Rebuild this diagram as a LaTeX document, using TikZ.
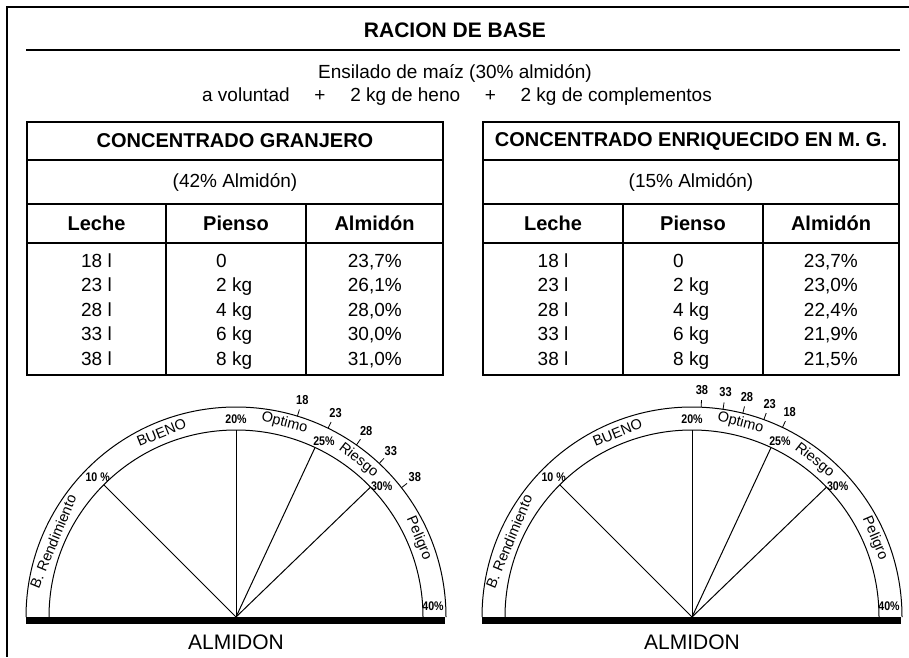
\documentclass[tikz,border=0pt]{standalone}
\usepackage{fontspec}
\setmainfont{Liberation Sans}
\newfontfamily\narrowfont[FakeStretch=0.85]{Liberation Sans}
\usetikzlibrary{positioning, calc}

\begin{document}
\begin{tikzpicture}[%
    x=1pt, y=1pt,
    cell/.style={
      draw,
      line width=1.3pt,
      inner sep=0,
      outer sep=0
    },
    cabecera/.style={font=\bfseries\fontsize{20}{24}\selectfont},
    texto/.style={font=\fontsize{19}{22}\selectfont},
    dato/.style={font=\fontsize{19}{22}\selectfont, inner sep=0},
    zona/.style={font=\fontsize{14.5}{17}\selectfont, inner sep=0},
    pct/.style={font=\narrowfont\bfseries\fontsize{12.5}{14}\selectfont, inner sep=0}]
    \fill[white] (0,0) rectangle (909,657);
    \useasboundingbox (0,0) rectangle (909,657);

    % marco y racion de base
    \draw[line width=1.5pt] (909,650) -- (7,650) -- (7,0);
    \node[font=\bfseries\fontsize{21}{24}\selectfont] (titulo) at (455,627) {RACION DE BASE};
    \coordinate (rayaL) at (26,607);
    \coordinate (rayaR) at (900,607);
    \draw[line width=1.2pt] (rayaL) -- (rayaR);
    \node[texto] (base1) at (455,584) {Ensilado de maíz (30\% almidón)};
    \node[texto] (base2) at (457,560)
        {a voluntad\hspace{1.3em}+\hspace{1.3em}2 kg de heno\hspace{1.3em}+\hspace{1.3em}2 kg de complementos};

    % tabla concentrado granjero
    \node[cell, cabecera, minimum width=416, minimum height=38] (grTit) at (235,516) {CONCENTRADO GRANJERO};
    \node[cell, texto, minimum width=416, minimum height=44, below=0 of grTit] (grSub) {(42\% Almidón)};
    \node[cell, cabecera, minimum width=139, minimum height=39, below right=0 and 0 of grSub.south west] (grLe) {Leche};
    \node[cell, cabecera, minimum width=140, minimum height=39, right=0 of grLe] (grPi) {Pienso};
    \node[cell, cabecera, minimum width=137, minimum height=39, right=0 of grPi] (grAl) {Almidón};
    \node[cell, minimum width=139, minimum height=132, below=0 of grLe] (grLeD) {};
    \node[cell, minimum width=140, minimum height=132, below=0 of grPi] (grPiD) {};
    \node[cell, minimum width=137, minimum height=132, below=0 of grAl] (grAlD) {};
    \foreach \vl/\vp/\va [count=\i] in {18 l/0/{23,7\%}, 23 l/2 kg/{26,1\%}, 28 l/4 kg/{28,0\%},
        33 l/6 kg/{30,0\%}, 38 l/8 kg/{31,0\%}} {
      \node[dato, anchor=base] (grL\i) at (96.5,414.5-24.5*\i) {\vl};
      \node[dato, anchor=base west] (grP\i) at (216,414.5-24.5*\i) {\vp};
      \node[dato, anchor=base east] (grA\i) at (402,414.5-24.5*\i) {\va};
    }

    % tabla concentrado enriquecido
    \node[cell, cabecera, minimum width=416, minimum height=38] (enTit) at (691,516) {CONCENTRADO ENRIQUECIDO EN M. G.};
    \node[cell, texto, minimum width=416, minimum height=44, below=0 of enTit] (enSub) {(15\% Almidón)};
    \node[cell, cabecera, minimum width=140, minimum height=39, below right=0 and 0 of enSub.south west] (enLe) {Leche};
    \node[cell, cabecera, minimum width=140, minimum height=39, right=0 of enLe] (enPi) {Pienso};
    \node[cell, cabecera, minimum width=136, minimum height=39, right=0 of enPi] (enAl) {Almidón};
    \node[cell, minimum width=140, minimum height=132, below=0 of enLe] (enLeD) {};
    \node[cell, minimum width=140, minimum height=132, below=0 of enPi] (enPiD) {};
    \node[cell, minimum width=136, minimum height=132, below=0 of enAl] (enAlD) {};
    \foreach \vl/\vp/\va [count=\i] in {18 l/0/{23,7\%}, 23 l/2 kg/{23,0\%}, 28 l/4 kg/{22,4\%},
        33 l/6 kg/{21,9\%}, 38 l/8 kg/{21,5\%}} {
      \node[dato, anchor=base] (enL\i) at (553,414.5-24.5*\i) {\vl};
      \node[dato, anchor=base west] (enP\i) at (673,414.5-24.5*\i) {\vp};
      \node[dato, anchor=base east] (enA\i) at (858,414.5-24.5*\i) {\va};
    }

    % semicirculos de almidon
    \foreach \g/\cx in {A/236, B/692} {
      \begin{scope}[shift={(\cx,40)}]
        \coordinate (c\g) at (0,0);
        \fill (-210,-7) rectangle (209,0);
        \draw[line width=1pt] (-210,0) arc[start angle=180, end angle=0, radius=210];
        \draw[line width=1pt] (-187,0) arc[start angle=180, end angle=0, radius=187];
        \foreach \a/\p in {135/10, 90/20, 65/25, 44/30} {
          \coordinate (p\g\p) at (\a:187);
          \draw[line width=1pt] (c\g) -- (p\g\p);
        }
        \node[zona, rotate=67.5] (rend\g) at (157.5:198) {B. Rendimiento};
        \node[zona, rotate=22] (bueno\g) at (112:199) {BUENO};
        \node[zona, rotate=-14.5] (opt\g) at (76:200) {Optimo};
        \node[zona, rotate=-38] (ries\g) at (52:199) {Riesgo};
        \node[zona, rotate=-67] (pel\g) at (23.3:199) {Peligro};
        \node[pct] (q10\g) at (134.6:197) {10 \%};
        \node[pct] (q20\g) at (90:198) {20\%};
        \node[pct] (q25\g) at (63.5:197) {25\%};
        \node[pct] (q30\g) at (42:196) {30\%};
        \node[pct] (q40\g) at (197,11) {40\%};
        \node[font=\fontsize{21}{24}\selectfont] (alm\g) at (0,-25) {ALMIDON};
      \end{scope}
    }

    % litros de leche
    \begin{scope}[shift={(236,40)}]
      \foreach \a/\n in {73/18, 64/23, 55/28, 47/33, 38/38} {
        \draw[line width=0.8pt] (\a:210) -- (\a:217);
        \node[pct, font=\narrowfont\bfseries\fontsize{13}{15}\selectfont] (tA\n) at (\a:227) {\n};
      }
    \end{scope}
    \begin{scope}[shift={(692,40)}]
      \foreach \a/\n in {64.5/18, 70/23, 76/28, 81.5/33, 87.5/38} {
        \draw[line width=0.8pt] (\a:210) -- (\a:217);
        \node[pct, font=\narrowfont\bfseries\fontsize{13}{15}\selectfont] (tB\n) at (\a:227) {\n};
      }
    \end{scope}
\end{tikzpicture}
\end{document}
